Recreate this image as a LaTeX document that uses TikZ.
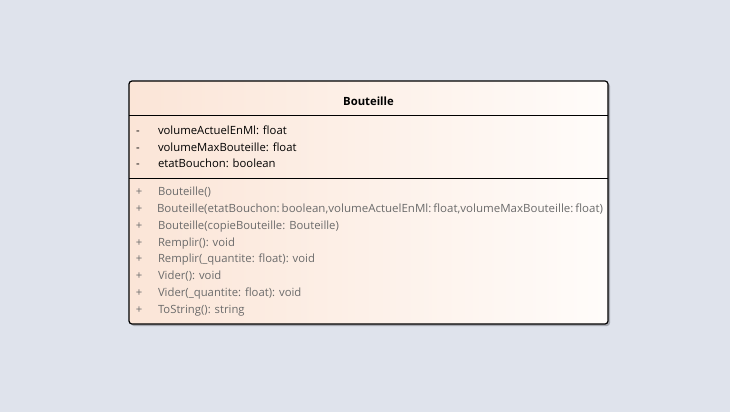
\documentclass[tikz,border=0pt]{standalone}
\usepackage{fontspec}
\setmainfont{Open Sans}
\usepackage{graphicx}
\newlength{\du}
\setlength{\du}{1pt}

\definecolor{bgcolor}{rgb}{0.874510, 0.890196, 0.925490}
\definecolor{dialinecolor}{rgb}{0.000000, 0.000000, 0.000000}
\definecolor{fillleftcolor}{rgb}{0.984314, 0.898039, 0.843137}
\definecolor{fillrightcolor}{rgb}{1.000000, 0.988235, 0.980392}
\definecolor{shadowcolor}{rgb}{0.650000, 0.660000, 0.690000}
\definecolor{optextcolor}{rgb}{0.420000, 0.420000, 0.420000}

\tikzset{
  attrtext/.style={anchor=base west,inner sep=0pt,outer sep=0pt,font=\fontsize{11.3}{13}\selectfont,text=dialinecolor},
  optext/.style={anchor=base west,inner sep=0pt,outer sep=0pt,font=\fontsize{11.3}{13}\selectfont,text=optextcolor},
  marktext/.style={anchor=base,inner sep=0pt,outer sep=0pt,font=\fontsize{11.3}{13}\selectfont},
}

\begin{document}
\begin{tikzpicture}
\pgftransformyscale{-1.000000}
\fill[bgcolor] (0\du,0\du) rectangle (730\du,412\du);
\useasboundingbox (0\du,0\du) rectangle (730\du,412\du);
% class box
\fill[shadowcolor,rounded corners=3\du] (131\du,83\du) rectangle (610\du,326\du);
\shade[left color=fillleftcolor,right color=fillrightcolor,rounded corners=3\du] (129\du,81\du) rectangle (608\du,324\du);
\draw[dialinecolor,line width=1.2\du,rounded corners=3\du] (129\du,81\du) rectangle (608\du,324\du);
\draw[dialinecolor,line width=1\du] (129\du,115\du) -- (608\du,115\du);
\draw[dialinecolor,line width=1\du] (129\du,178\du) -- (608\du,178\du);
% name
\node[anchor=base,inner sep=0pt,font=\fontsize{11.3}{13}\selectfont\bfseries] (title) at (368.5\du,105.5\du) {Bouteille};
% attributes
\node[marktext] (amark1) at (138\du,134\du) {-};
\node[marktext] (amark2) at (138\du,151\du) {-};
\node[marktext] (amark3) at (138\du,167\du) {-};
\node[attrtext] (attr1) at (158\du,134\du) {volumeActuelEnMl: float};
\node[attrtext] (attr2) at (158\du,151\du) {volumeMaxBouteille: float};
\node[attrtext] (attr3) at (158\du,167\du) {etatBouchon: boolean};
% operations
\node[marktext,text=optextcolor] (omark1) at (139\du,195\du) {+};
\node[marktext,text=optextcolor] (omark2) at (139\du,212\du) {+};
\node[marktext,text=optextcolor] (omark3) at (139\du,229\du) {+};
\node[marktext,text=optextcolor] (omark4) at (139\du,246\du) {+};
\node[marktext,text=optextcolor] (omark5) at (139\du,262\du) {+};
\node[marktext,text=optextcolor] (omark6) at (139\du,279\du) {+};
\node[marktext,text=optextcolor] (omark7) at (139\du,296\du) {+};
\node[marktext,text=optextcolor] (omark8) at (139\du,313\du) {+};
\node[optext] (op1) at (158\du,195\du) {Bouteille()};
\node[optext] (op2) at (157\du,212\du) {\resizebox{446\du}{\height}{Bouteille(etatBouchon:\,boolean,volumeActuelEnMl:\,float,volumeMaxBouteille:\,float)}};
\node[optext] (op3) at (158\du,229\du) {Bouteille(copieBouteille: Bouteille)};
\node[optext] (op4) at (158\du,246\du) {Remplir(): void};
\node[optext] (op5) at (158\du,262\du) {Remplir(\_quantite: float): void};
\node[optext] (op6) at (158\du,279\du) {Vider(): void};
\node[optext] (op7) at (158\du,296\du) {Vider(\_quantite: float): void};
\node[optext] (op8) at (158\du,313\du) {ToString(): string};
\end{tikzpicture}
\end{document}
